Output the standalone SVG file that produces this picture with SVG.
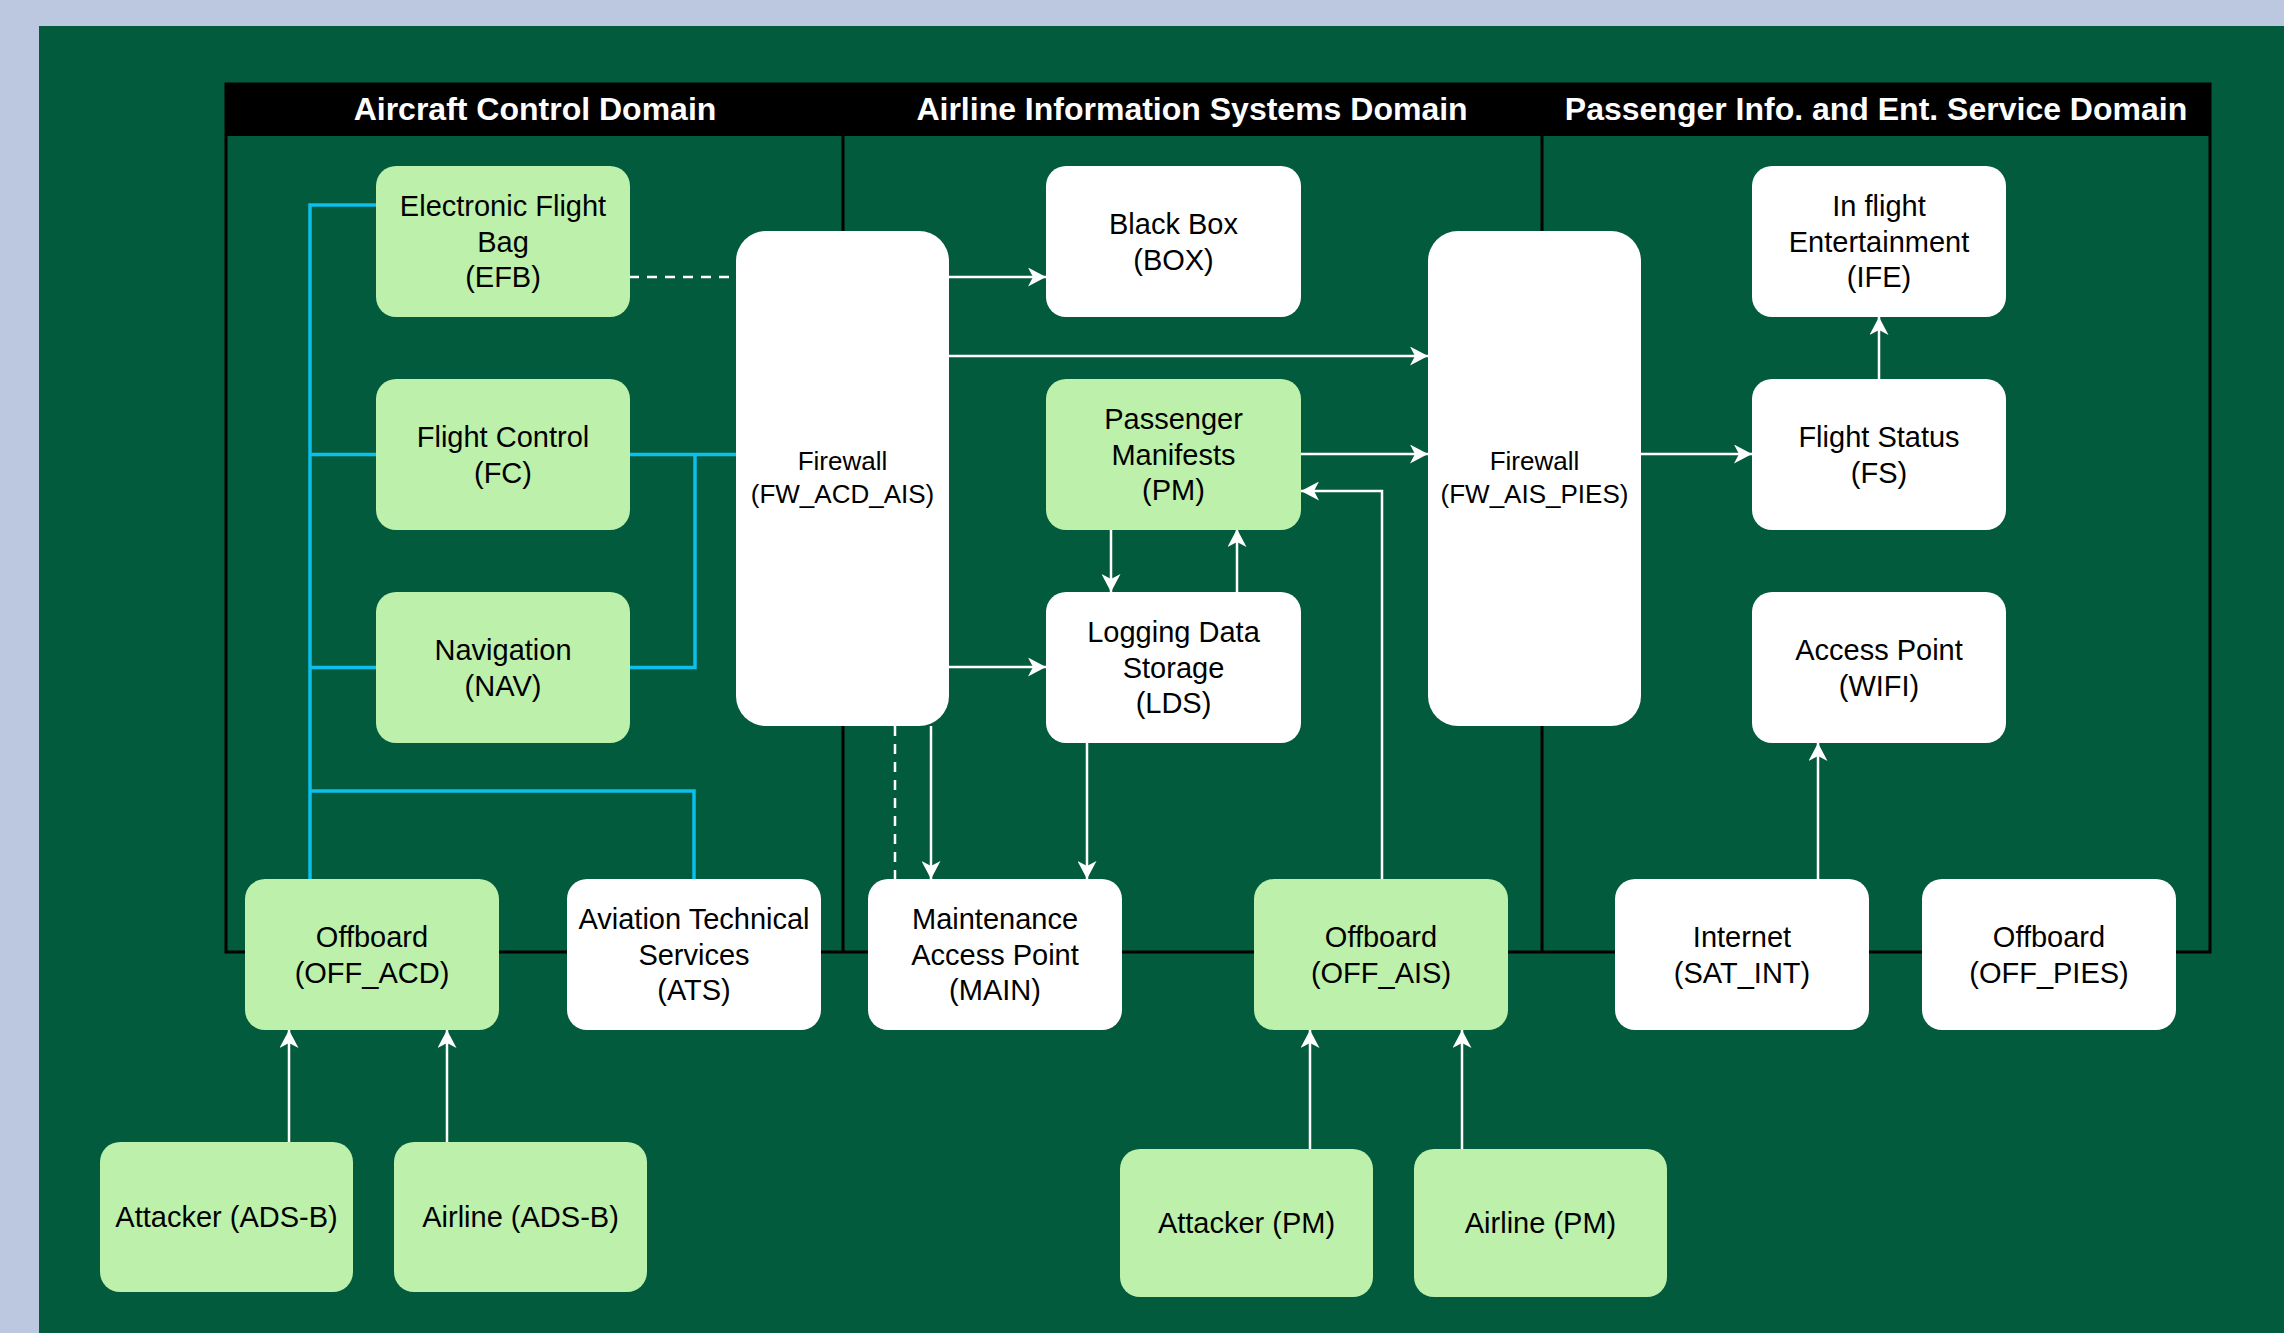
<svg xmlns="http://www.w3.org/2000/svg" width="2284" height="1333" viewBox="0 0 2284 1333">
<defs>
<style>
.lg{fill:#bdf0aa;}
.wh{fill:#ffffff;}
.t{font-family:"Liberation Sans",Arial,Helvetica,sans-serif;font-size:29px;fill:#000;text-anchor:middle;}
.tf{font-family:"Liberation Sans",Arial,Helvetica,sans-serif;font-size:26px;fill:#000;text-anchor:middle;}
.hd{font-family:"Liberation Sans",Arial,Helvetica,sans-serif;font-size:32px;font-weight:bold;fill:#fff;text-anchor:middle;}
.blue{fill:none;stroke:#0cbfec;stroke-width:3.5;}
.wl{fill:none;stroke:#fff;stroke-width:2.5;}
.wa{fill:none;stroke:#fff;stroke-width:2.5;marker-end:url(#arr);}
.dash{fill:none;stroke:#fff;stroke-width:2.5;stroke-dasharray:10 8;}
</style>
<marker id="arr" markerUnits="userSpaceOnUse" viewBox="0 0 18 19" markerWidth="18" markerHeight="19" refX="18" refY="9.5" orient="auto">
<path d="M0,0 L18,9.5 L0,19 L5,9.5 Z" fill="#fff"/>
</marker>
</defs>
<rect x="0" y="0" width="2284" height="1333" fill="#bcc8e0"/>
<rect x="39" y="26" width="2245" height="1307" fill="#035b3e"/>

<g id="container">
<rect x="226" y="84" width="1984" height="868" fill="none" stroke="#000" stroke-width="3"/>
<rect x="226" y="84" width="1984" height="52" fill="#000"/>
<line x1="843" y1="136" x2="843" y2="952" stroke="#000" stroke-width="3"/>
<line x1="1542" y1="136" x2="1542" y2="952" stroke="#000" stroke-width="3"/>
<text class="hd" x="535" y="120">Aircraft Control Domain</text>
<text class="hd" x="1192" y="120">Airline Information Systems Domain</text>
<text class="hd" x="1876" y="120">Passenger Info. and Ent. Service Domain</text>
</g>

<g id="connectors">
<path class="blue" d="M376,205 H310 V879"/>
<path class="blue" d="M376,454.5 H310"/>
<path class="blue" d="M376,667.5 H310"/>
<path class="blue" d="M629,454.5 H736"/>
<path class="blue" d="M629,667.5 H695 V454.5"/>
<path class="blue" d="M310,791 H694 V879"/>
<path class="dash" d="M629,277 H736"/>
<path class="wa" d="M949,277 H1046"/>
<path class="wa" d="M949,356 H1428"/>
<path class="wa" d="M1301,454 H1428"/>
<path class="wa" d="M949,667 H1046"/>
<path class="wa" d="M1111,529 V592"/>
<path class="wa" d="M1237,592 V529"/>
<path class="wa" d="M1382,879 V491 H1301"/>
<path class="wa" d="M931,726 V879"/>
<path class="dash" d="M895,726 V879"/>
<path class="wa" d="M1087,743 V879"/>
<path class="wa" d="M1641,454 H1752"/>
<path class="wa" d="M1879,379 V317"/>
<path class="wa" d="M1818,879 V743"/>
<path class="wa" d="M289,1142 V1030"/>
<path class="wa" d="M447,1142 V1030"/>
<path class="wa" d="M1310,1149 V1030"/>
<path class="wa" d="M1462,1149 V1030"/>
</g>

<g id="EFB"><rect class="lg" x="376" y="166" width="254" height="151" rx="20"/>
<text class="t" x="503" y="216">Electronic Flight</text><text class="t" x="503" y="251.5">Bag</text><text class="t" x="503" y="287">(EFB)</text></g>
<g id="FC"><rect class="lg" x="376" y="379" width="254" height="151" rx="20"/>
<text class="t" x="503" y="447">Flight Control</text><text class="t" x="503" y="482.5">(FC)</text></g>
<g id="NAV"><rect class="lg" x="376" y="592" width="254" height="151" rx="20"/>
<text class="t" x="503" y="660">Navigation</text><text class="t" x="503" y="695.5">(NAV)</text></g>
<g id="FW_ACD_AIS"><rect class="wh" x="736" y="231" width="213" height="495" rx="30"/>
<text class="tf" x="842.5" y="470">Firewall</text><text class="tf" x="842.5" y="503">(FW_ACD_AIS)</text></g>
<g id="BOX"><rect class="wh" x="1046" y="166" width="255" height="151" rx="20"/>
<text class="t" x="1173.5" y="234">Black Box</text><text class="t" x="1173.5" y="269.5">(BOX)</text></g>
<g id="PM"><rect class="lg" x="1046" y="379" width="255" height="151" rx="20"/>
<text class="t" x="1173.5" y="429">Passenger</text><text class="t" x="1173.5" y="464.5">Manifests</text><text class="t" x="1173.5" y="500">(PM)</text></g>
<g id="LDS"><rect class="wh" x="1046" y="592" width="255" height="151" rx="20"/>
<text class="t" x="1173.5" y="642">Logging Data</text><text class="t" x="1173.5" y="677.5">Storage</text><text class="t" x="1173.5" y="713">(LDS)</text></g>
<g id="FW_AIS_PIES"><rect class="wh" x="1428" y="231" width="213" height="495" rx="30"/>
<text class="tf" x="1534.5" y="470">Firewall</text><text class="tf" x="1534.5" y="503">(FW_AIS_PIES)</text></g>
<g id="IFE"><rect class="wh" x="1752" y="166" width="254" height="151" rx="20"/>
<text class="t" x="1879" y="216">In flight</text><text class="t" x="1879" y="251.5">Entertainment</text><text class="t" x="1879" y="287">(IFE)</text></g>
<g id="FS"><rect class="wh" x="1752" y="379" width="254" height="151" rx="20"/>
<text class="t" x="1879" y="447">Flight Status</text><text class="t" x="1879" y="482.5">(FS)</text></g>
<g id="WIFI"><rect class="wh" x="1752" y="592" width="254" height="151" rx="20"/>
<text class="t" x="1879" y="660">Access Point</text><text class="t" x="1879" y="695.5">(WIFI)</text></g>
<g id="OFF_ACD"><rect class="lg" x="245" y="879" width="254" height="151" rx="20"/>
<text class="t" x="372" y="947">Offboard</text><text class="t" x="372" y="982.5">(OFF_ACD)</text></g>
<g id="ATS"><rect class="wh" x="567" y="879" width="254" height="151" rx="20"/>
<text class="t" x="694" y="929">Aviation Technical</text><text class="t" x="694" y="964.5">Services</text><text class="t" x="694" y="1000">(ATS)</text></g>
<g id="MAIN"><rect class="wh" x="868" y="879" width="254" height="151" rx="20"/>
<text class="t" x="995" y="929">Maintenance</text><text class="t" x="995" y="964.5">Access Point</text><text class="t" x="995" y="1000">(MAIN)</text></g>
<g id="OFF_AIS"><rect class="lg" x="1254" y="879" width="254" height="151" rx="20"/>
<text class="t" x="1381" y="947">Offboard</text><text class="t" x="1381" y="982.5">(OFF_AIS)</text></g>
<g id="SAT_INT"><rect class="wh" x="1615" y="879" width="254" height="151" rx="20"/>
<text class="t" x="1742" y="947">Internet</text><text class="t" x="1742" y="982.5">(SAT_INT)</text></g>
<g id="OFF_PIES"><rect class="wh" x="1922" y="879" width="254" height="151" rx="20"/>
<text class="t" x="2049" y="947">Offboard</text><text class="t" x="2049" y="982.5">(OFF_PIES)</text></g>
<g id="ATK_ADSB"><rect class="lg" x="100" y="1142" width="253" height="150" rx="20"/>
<text class="t" x="226.5" y="1227">Attacker (ADS-B)</text></g>
<g id="AIR_ADSB"><rect class="lg" x="394" y="1142" width="253" height="150" rx="20"/>
<text class="t" x="520.5" y="1227">Airline (ADS-B)</text></g>
<g id="ATK_PM"><rect class="lg" x="1120" y="1149" width="253" height="148" rx="20"/>
<text class="t" x="1246.5" y="1233">Attacker (PM)</text></g>
<g id="AIR_PM"><rect class="lg" x="1414" y="1149" width="253" height="148" rx="20"/>
<text class="t" x="1540.5" y="1233">Airline (PM)</text></g>
</svg>
